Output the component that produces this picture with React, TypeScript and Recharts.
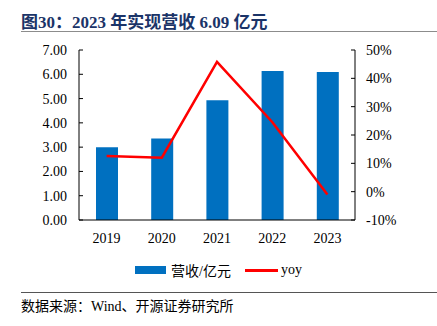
import React from "react";
import { ComposedChart, Bar, Line, XAxis, YAxis } from "recharts";

const years = ["2019", "2020", "2021", "2022", "2023"];
const revenue = [3.0, 3.36, 4.93, 6.14, 6.09];
const yoy = [12.6, 12.0, 45.8, 24.6, -1.0];
const leftTicks = [0, 1, 2, 3, 4, 5, 6, 7];
const rightTicks = [-10, 0, 10, 20, 30, 40, 50];
const boundaryTicks = [0, 1, 2, 3, 4, 5];

const data = years.map((y, i) => ({ year: y, rev: revenue[i], yoy: yoy[i] }));

const serif = '"Times New Roman", "Liberation Serif", "Noto Sans CJK SC", serif';

const LegendContent = () => (
  <div style={{ display: "flex", justifyContent: "center", alignItems: "center", fontFamily: serif, fontSize: 14, color: "#000" }}>
    <div style={{ width: 31, height: 8, background: "#0070C0", marginRight: 5 }} />
    <span style={{ marginRight: 14 }}>营收/亿元</span>
    <div style={{ width: 33, height: 3, background: "#FF0000", marginRight: 3 }} />
    <span>yoy</span>
  </div>
);

export default function App() {
  return (
    <div style={{ position: "absolute", left: 0, top: 0, width: 437, height: 326, background: "#fff", fontFamily: serif }}>
      <div style={{ position: "absolute", left: 21, top: 8, fontSize: 17, fontWeight: "bold", color: "#1B3468", whiteSpace: "nowrap", fontFamily: serif }}>
        图30：2023 年实现营收 6.09 亿元
      </div>
      <div style={{ position: "absolute", left: 21, top: 31, width: 416, height: 1, background: "#8c8c8c" }} />
      <div style={{ position: "absolute", left: 0, top: 0 }}>
        <ComposedChart width={437} height={326} data={data} margin={{ top: 50, right: 0, bottom: 76, left: 0 }}>
          <XAxis
            xAxisId="b"
            type="number"
            domain={[0, 5]}
            ticks={boundaryTicks}
            height={0}
            tick={false}
            axisLine={false}
            tickLine={{ stroke: "#000" }}
            tickSize={-4}
            allowDataOverflow
          />
          <XAxis
            dataKey="year"
            height={30}
            axisLine={{ stroke: "#000" }}
            tickLine={false}
            tickSize={0}
            tickMargin={13}
            tick={{ fill: "#000", fontSize: 14, fontFamily: serif }}
          />
          <YAxis
            yAxisId="l"
            width={79}
            domain={[0, 7]}
            ticks={leftTicks}
            tickFormatter={(v: number) => v.toFixed(2)}
            axisLine={{ stroke: "#000" }}
            tickLine={{ stroke: "#000" }}
            tickSize={-4}
            tickMargin={16}
            tick={{ fill: "#000", fontSize: 14, fontFamily: serif }}
          />
          <YAxis
            yAxisId="r"
            orientation="right"
            width={82}
            domain={[-10, 50]}
            ticks={rightTicks}
            tickFormatter={(v: number) => `${v}%`}
            axisLine={{ stroke: "#000" }}
            tickLine={{ stroke: "#000" }}
            tickSize={-4}
            tickMargin={15}
            tick={{ fill: "#000", fontSize: 14, fontFamily: serif, textAnchor: "start" }}
          />
          <Bar yAxisId="l" dataKey="rev" name="营收/亿元" fill="#0070C0" barSize={22} isAnimationActive={false} />
          <Line yAxisId="r" dataKey="yoy" name="yoy" stroke="#FF0000" strokeWidth={2.5} dot={false} activeDot={false} isAnimationActive={false} />
        </ComposedChart>
      </div>
      <div style={{ position: "absolute", left: 0, top: 260, width: 437 }}>
        <LegendContent />
      </div>
      <div style={{ position: "absolute", left: 21, top: 292, width: 416, height: 1, background: "#555" }} />
      <div style={{ position: "absolute", left: 21, top: 295, fontSize: 14, color: "#000", whiteSpace: "nowrap", fontFamily: serif }}>
        数据来源：Wind、开源证券研究所
      </div>
    </div>
  );
}
